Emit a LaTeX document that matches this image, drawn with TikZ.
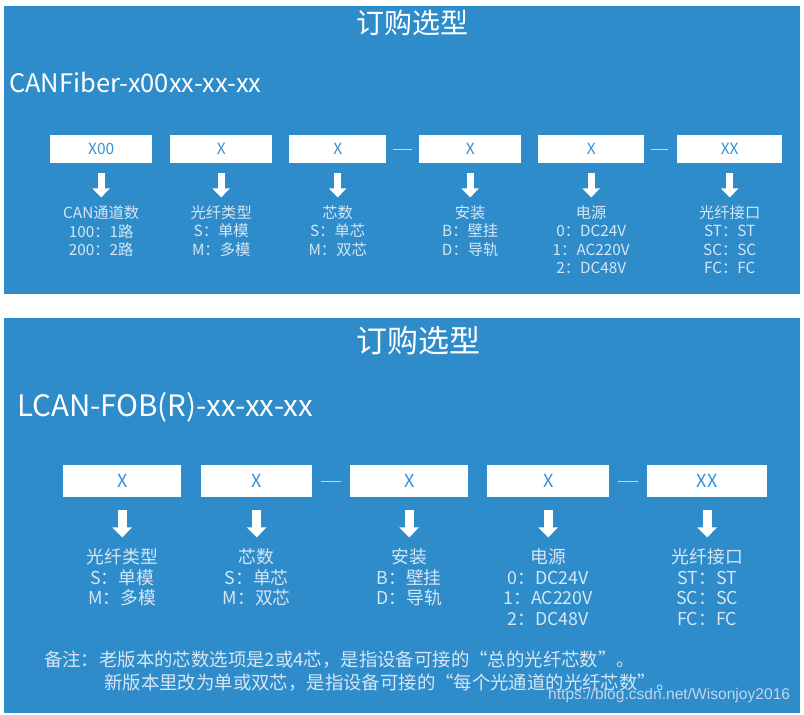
\documentclass[tikz,border=0pt]{standalone}
\usepackage{fontspec}
\setmainfont{Noto Sans CJK SC}
\newfontfamily\urlfont{Liberation Sans}
\usetikzlibrary{arrows.meta,positioning}
\definecolor{panelblue}{RGB}{46,140,202}
\definecolor{boxblue}{RGB}{52,145,215}
\definecolor{labeltext}{RGB}{214,230,244}
\definecolor{dashgray}{RGB}{190,214,234}
\tikzset{
  codebox/.style={fill=white, text=boxblue, inner sep=0pt, anchor=north west},
  optlabel/.style={text=labeltext, align=center, inner sep=0pt, anchor=north},
  bigarrow/.style={white, line width=#1},
  joiner/.style={dashgray, line width=0.8pt}
}
\begin{document}
\begin{tikzpicture}[x=1pt, y=-1pt]
    \useasboundingbox (0,0) rectangle (804,715);
    \fill[white] (0,0) rectangle (804,715);
    % Panel 1
    \fill[panelblue] (4,6) rectangle (800,294);
    \node[white] (t1) at (412,23) {\fontsize{28}{30}\selectfont 订购选型};
    \node[white, anchor=west, inner sep=0pt] (m1) at (9,83) {\fontsize{25.5}{27}\selectfont CANFiber-x00xx-xx-xx};
    \foreach \n/\x/\w/\t in {a1/50/102/X00, a2/170/102/X, a3/289/97/X, a4/419/102/X, a5/538/106/X, a6/677/105/XX}
        \node[codebox, minimum width=\w pt, minimum height=28pt, font=\fontsize{15.5}{17}\selectfont] (\n) at (\x,135) {\t};
    \draw[joiner, shorten <=7pt, shorten >=7pt] (a3.east) -- (a4.west);
    \draw[joiner, shorten <=7pt, shorten >=9pt] (a5.east) -- (a6.west);
    \tikzset{font=\fontsize{15.3}{18.5}\selectfont}
    \node[optlabel, below=42pt of a1] (l1) {CAN通道数\\100：1路\\200：2路};
    \node[optlabel, below=42pt of a2] (l2) {光纤类型\\S：单模\\M：多模};
    \node[optlabel, below=42pt of a3] (l3) {芯数\\S：单芯\\M：双芯};
    \node[optlabel, below=42pt of a4] (l4) {安装\\B：壁挂\\D：导轨};
    \node[optlabel, below=42pt of a5] (l5) {电源\\0：DC24V\\1：AC220V\\2：DC48V};
    \node[optlabel, below=42pt of a6] (l6) {光纤接口\\ST：ST\\SC：SC\\FC：FC};
    \foreach \i in {1,...,6}
        \draw[bigarrow=7pt, -{Triangle[width=17pt,length=9pt]}, shorten <=10pt, shorten >=8pt] (a\i.south) -- (l\i.north);
    % Panel 2
    \fill[panelblue] (4,318) rectangle (800,713);
    \node[white] (t2) at (418,341) {\fontsize{31}{33}\selectfont 订购选型};
    \node[white, anchor=west, inner sep=0pt] (m2) at (17,407) {\fontsize{29.5}{31}\selectfont LCAN-FOB(R)-xx-xx-xx};
    \foreach \n/\x/\w/\t in {b1/63/118/X, b2/201/111/X, b3/350/118/X, b4/487/122/X, b5/647/120/XX}
        \node[codebox, minimum width=\w pt, minimum height=32pt, font=\fontsize{18}{20}\selectfont] (\n) at (\x,465) {\t};
    \draw[joiner, shorten <=9pt, shorten >=9pt] (b2.east) -- (b3.west);
    \draw[joiner, shorten <=9pt, shorten >=9pt] (b4.east) -- (b5.west);
    \tikzset{font=\fontsize{17.8}{20.5}\selectfont}
    \node[optlabel, below=51pt of b1] (k1) {光纤类型\\S：单模\\M：多模};
    \node[optlabel, below=51pt of b2] (k2) {芯数\\S：单芯\\M：双芯};
    \node[optlabel, below=51pt of b3] (k3) {安装\\B：壁挂\\D：导轨};
    \node[optlabel, below=51pt of b4] (k4) {电源\\0：DC24V\\1：AC220V\\2：DC48V};
    \node[optlabel, below=51pt of b5] (k5) {光纤接口\\ST：ST\\SC：SC\\FC：FC};
    \foreach \i in {1,...,5}
        \draw[bigarrow=9pt, -{Triangle[width=19pt,length=10pt]}, shorten <=13pt, shorten >=11pt] (b\i.south) -- (k\i.north);
    % Note
    \node[labeltext, anchor=west, inner sep=0pt, font=\fontsize{18.4}{20}\selectfont] (n1) at (44,660) {备注：老版本的芯数选项是2或4芯，是指设备可接的“总的光纤芯数”。};
    \node[labeltext, anchor=west, inner sep=0pt, font=\fontsize{18.4}{20}\selectfont] (n2) at (104,683) {新版本里改为单或双芯，是指设备可接的“每个光通道的光纤芯数”。};
    \node[dashgray, anchor=west, inner sep=0pt, font=\urlfont\fontsize{15.6}{17}\selectfont] (w) at (548,695) {https://blog.csdn.net/Wisonjoy2016};
\end{tikzpicture}
\end{document}
